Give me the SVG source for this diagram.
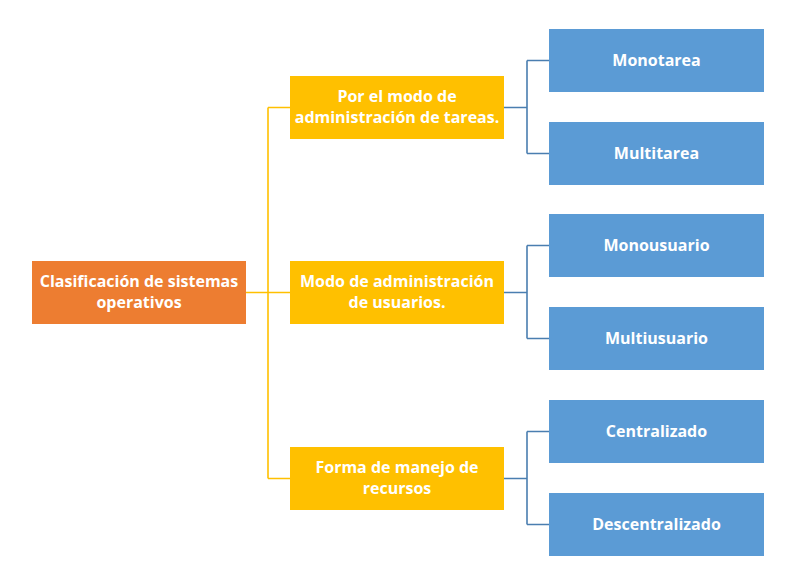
<svg xmlns="http://www.w3.org/2000/svg" width="800" height="580" viewBox="0 0 800 580">
<style>
.root{fill:#ED7D31}
.mid{fill:#FFC000}
.leaf{fill:#5B9BD5}
text{font-family:"Open Sans","Liberation Sans",sans-serif;font-weight:bold;font-size:16px;fill:#FFFFFF;text-anchor:middle}
.yl{fill:none;stroke:#FFC000;stroke-width:1.6}
.bl{fill:none;stroke:#4A7EB0;stroke-width:1.6}
</style>
<rect width="800" height="580" fill="#FFFFFF"/>
<g id="connectors">
<path class="yl" d="M246,292.5 H268 M268,107.5 V478.5 M268,107.5 H290 M268,292.5 H290 M268,478.5 H290"/>
<path class="bl" d="M504,107.5 H527 M527,60.5 V153.5 M527,60.5 H549 M527,153.5 H549"/>
<path class="bl" d="M504,292.5 H527 M527,245.5 V338.5 M527,245.5 H549 M527,338.5 H549"/>
<path class="bl" d="M504,478.5 H527 M527,431.5 V524.5 M527,431.5 H549 M527,524.5 H549"/>
</g>
<g id="root">
<rect class="root" x="32" y="261" width="214" height="63"/>
<text x="139" y="287">Clasificación de sistemas</text>
<text x="139" y="308">operativos</text>
</g>
<g id="tareas">
<rect class="mid" x="290" y="76" width="214" height="63"/>
<text x="397" y="102">Por el modo de</text>
<text x="397" y="123">administración de tareas.</text>
</g>
<g id="usuarios">
<rect class="mid" x="290" y="261" width="214" height="63"/>
<text x="397" y="287">Modo de administración</text>
<text x="397" y="308">de usuarios.</text>
</g>
<g id="recursos">
<rect class="mid" x="290" y="447" width="214" height="63"/>
<text x="397" y="473">Forma de manejo de</text>
<text x="397" y="494">recursos</text>
</g>
<g id="monotarea">
<rect class="leaf" x="549" y="29" width="215" height="63"/>
<text x="656.5" y="66">Monotarea</text>
</g>
<g id="multitarea">
<rect class="leaf" x="549" y="122" width="215" height="63"/>
<text x="656.5" y="159">Multitarea</text>
</g>
<g id="monousuario">
<rect class="leaf" x="549" y="214" width="215" height="63"/>
<text x="656.5" y="251">Monousuario</text>
</g>
<g id="multiusuario">
<rect class="leaf" x="549" y="307" width="215" height="63"/>
<text x="656.5" y="344">Multiusuario</text>
</g>
<g id="centralizado">
<rect class="leaf" x="549" y="400" width="215" height="63"/>
<text x="656.5" y="437">Centralizado</text>
</g>
<g id="descentralizado">
<rect class="leaf" x="549" y="493" width="215" height="63"/>
<text x="656.5" y="530">Descentralizado</text>
</g>
</svg>
